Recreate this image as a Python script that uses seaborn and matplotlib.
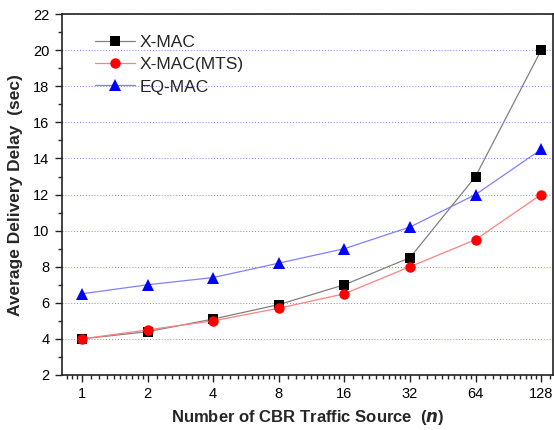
import numpy as np
import pandas as pd
import seaborn as sns
import matplotlib
matplotlib.use("Agg")
import matplotlib.pyplot as plt
from matplotlib.ticker import FixedLocator, FixedFormatter, MultipleLocator

sources = [1, 2, 4, 8, 16, 32, 64, 128]
xmac = [4.0, 4.4, 5.1, 5.9, 7.0, 8.5, 13.0, 20.0]
xmac_mts = [4.0, 4.5, 5.0, 5.7, 6.5, 8.0, 9.5, 12.0]
eqmac = [6.5, 7.0, 7.4, 8.2, 9.0, 10.2, 12.0, 14.5]
series_names = ["X-MAC", "X-MAC(MTS)", "EQ-MAC"]
tick_labels = ["1", "2", "4", "8", "16", "32", "64", "128"]

sns.set_style("ticks")
plt.rcParams["font.family"] = ["Liberation Sans", "DejaVu Sans"]

fig = plt.figure(figsize=(5.54, 4.30), dpi=100)
ax = fig.add_axes([0.112, 0.128, 0.886, 0.839])

styles = [
    (xmac, "#808080", "black", "s", 6.5),
    (xmac_mts, "#ff8080", "red", "o", 7.5),
    (eqmac, "#8080ff", "blue", "^", 8.5),
]
for name, (vals, lc, mc, mk, ms) in zip(series_names, styles):
    df = pd.DataFrame({"n": sources, "delay": vals})
    sns.lineplot(data=df, x="n", y="delay", ax=ax, color=lc, lw=0.9,
                 marker=mk, markersize=ms, markerfacecolor=mc,
                 markeredgecolor=mc, markeredgewidth=0, label=name)

ax.set_xscale("log", base=2)
ax.set_xlim(0.81, 145)
ax.set_ylim(2, 22)

ax.xaxis.set_major_locator(FixedLocator(sources))
ax.xaxis.set_major_formatter(FixedFormatter(tick_labels))
minors = []
for k in range(-1, 8):
    base = 2.0 ** k
    for i in range(1, 10):
        v = base * (1 + i / 10)
        if 0.81 <= v <= 145:
            minors.append(v)
ax.xaxis.set_minor_locator(FixedLocator(minors))
ax.xaxis.set_minor_formatter(FixedFormatter([""] * len(minors)))

ax.yaxis.set_major_locator(MultipleLocator(2))
ax.yaxis.set_minor_locator(MultipleLocator(1))

ax.grid(axis="y", which="major", color="#8080ff", linestyle=(0, (1, 2)), lw=0.7)
ax.set_axisbelow(True)

for sp in ax.spines.values():
    sp.set_linewidth(1.2)
    sp.set_color("#222222")
ax.tick_params(which="major", direction="out", length=5, width=1.0, labelsize=10.5,
               colors="#222222", pad=4)
ax.tick_params(which="minor", direction="out", length=3, width=1.0)
ax.tick_params(axis="both", labelcolor="black")

ax.set_xlabel("Number of CBR Traffic Source  ($\\mathbfit{n}$)", fontsize=12, fontweight="bold", labelpad=5)
ax.set_ylabel("Average Delivery Delay  (sec)", fontsize=12.5, fontweight="bold", labelpad=7)

leg = ax.legend(loc="upper left", bbox_to_anchor=(0.035, 0.985), frameon=False,
                fontsize=12.5, handlelength=2.3, handletextpad=0.3, labelspacing=0.4)

fig.savefig("out.png", dpi=100)
